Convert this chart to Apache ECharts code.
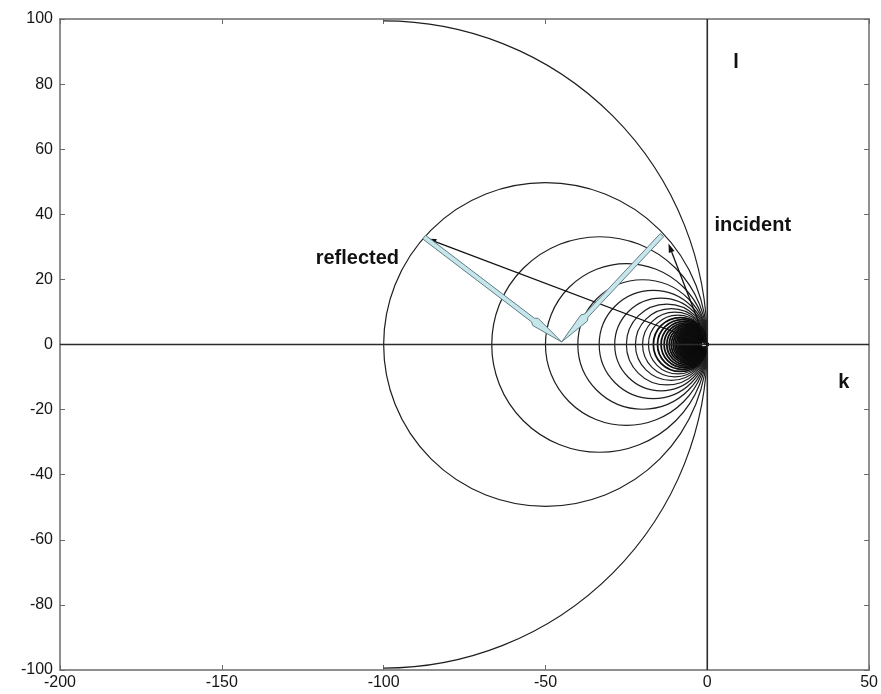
<!DOCTYPE html>
<html>
<head>
<meta charset="utf-8">
<script src="https://cdn.jsdelivr.net/npm/echarts@6/dist/echarts.min.js"></script>
<style>
  html, body { margin: 0; padding: 0; background: #fff; }
  #main { width: 881px; height: 694px; }
</style>
</head>
<body>
<div id="main"></div>
<script>
// tick labels
const xTicks = [-200, -150, -100, -50, 0, 50];
const yTicks = [-100, -80, -60, -40, -20, 0, 20, 40, 60, 80, 100];

// radius of the big half circle (only its right half is drawn)
const outerRadius = [100];

// radii of the full circles, all touching the origin, centre at (-r, 0)
const circleRadii = [
  50, 33.3, 25, 20, 16.7, 14.3, 12.5, 11.1, 10, 9.09,
  8.33, 7.69, 7.14, 6.67, 6.25, 5.88, 5.56, 5.26, 5, 4.76,
  4.55, 4.35, 4.17, 4, 3.85, 3.7, 3.57, 3.45, 3.33, 3.23,
  3.13, 3.03, 2.94, 2.86, 2.78, 2.7, 2.63, 2.56, 2.5, 2.44,
  2.38, 2.33, 2.27, 2.22, 2.17, 2.13, 2.08, 2.04, 2, 1.96,
  1.92, 1.89, 1.85, 1.82, 1.79, 1.75, 1.72, 1.69, 1.67, 1.64,
  1.61, 1.59, 1.56, 1.54, 1.52, 1.49, 1.47, 1.45, 1.43, 1.41,
  1.39, 1.37, 1.35, 1.33, 1.32, 1.3, 1.28, 1.27, 1.25, 1.23,
  1.22, 1.2, 1.19, 1.18, 1.16, 1.15, 1.14, 1.12, 1.11, 1.1,
  1.09, 1.08, 1.06, 1.05, 1.04, 1.03, 1.02, 1.01, 1
];

// k / l axes through the origin [x1, y1, x2, y2]
const originLines = [[0, -100, 0, 100], [-200, 0, 50, 0]];

// thick light-blue arrows, tail -> head
const waveArrows = [[-87.5, 33, -45, 0.8], [-14, 33.6, -45, 0.8]];

// thin black arrows from the origin
const thinArrows = [[0, 0, -86.5, 32.5], [0, 0, -12, 31]];

// annotations [text, x, y]
const notes = [['l', 8.9, 86.5], ['incident', 2.2, 36.5], ['reflected', -121, 26.5], ['k', 42.2, -11.8]];

const chart = echarts.init(document.getElementById('main'));

const tickFont = { color: '#151515', fontSize: 16, fontFamily: 'Liberation Sans, Arial, sans-serif' };
const frameLine = { show: true, onZero: false, lineStyle: { color: '#6b6b6b', width: 1.5 } };

function xAx(pos, showLabel) {
  return {
    type: 'value', position: pos, min: -200, max: 50, interval: 50,
    axisLine: frameLine,
    axisTick: { show: true, inside: true, length: 5, lineStyle: { color: '#6b6b6b' } },
    axisLabel: Object.assign({ show: showLabel, margin: 5, showMaxLabel: true, showMinLabel: true }, tickFont),
    splitLine: { show: false }
  };
}
function yAx(pos, showLabel) {
  return {
    type: 'value', position: pos, min: -100, max: 100, interval: 20,
    axisLine: frameLine,
    axisTick: { show: true, inside: true, length: 5, lineStyle: { color: '#6b6b6b' } },
    axisLabel: Object.assign({ show: showLabel, margin: 7, showMaxLabel: true, showMinLabel: true }, tickFont),
    splitLine: { show: false }
  };
}

function arrowPoly(p1, p2) {
  const dx = p2[0] - p1[0], dy = p2[1] - p1[1];
  const len = Math.sqrt(dx * dx + dy * dy);
  const ux = dx / len, uy = dy / len, nx = -uy, ny = ux;
  const pt = (a, b) => [p1[0] + ux * a + nx * b, p1[1] + uy * a + ny * b];
  const hs = len - 36;
  return [
    pt(0, 2.3), pt(hs, 2.3), pt(hs + 3, 4.5), pt(len, 0),
    pt(hs + 3, -4.5), pt(hs, -2.3), pt(0, -2.3)
  ];
}

chart.setOption({
  backgroundColor: '#fff',
  animation: false,
  grid: { left: 60, right: 9, top: 19, bottom: 24 },
  xAxis: [xAx('bottom', true), xAx('top', false)],
  yAxis: [yAx('left', true), yAx('right', false)],
  series: [
    {
      type: 'custom',
      data: outerRadius.map(r => [r]),
      renderItem: (params, api) => {
        const r = api.value(0);
        const c = api.coord([-r, 0]);
        const rp = api.size([r, 0])[0];
        return {
          type: 'arc',
          shape: { cx: c[0], cy: c[1], r: rp, startAngle: -Math.PI / 2, endAngle: Math.PI / 2, clockwise: true },
          style: { fill: null, stroke: '#1e1e1e', lineWidth: 1.2 }
        };
      }
    },
    {
      type: 'custom',
      data: circleRadii.map(r => [r]),
      renderItem: (params, api) => {
        const r = api.value(0);
        const c = api.coord([-r, 0]);
        const rp = api.size([r, 0])[0];
        return {
          type: 'circle',
          shape: { cx: c[0], cy: c[1], r: rp },
          style: { fill: null, stroke: r < 9 ? '#0d0d0d' : '#1e1e1e', lineWidth: r < 9 ? 1.8 : 1.2 }
        };
      }
    },
    {
      type: 'custom',
      data: originLines,
      renderItem: (params, api) => {
        const a = api.coord([api.value(0), api.value(1)]);
        const b = api.coord([api.value(2), api.value(3)]);
        return {
          type: 'line',
          shape: { x1: a[0], y1: a[1], x2: b[0], y2: b[1] },
          style: { stroke: '#2b2b2b', lineWidth: 1.6 }
        };
      }
    },
    {
      type: 'custom',
      data: thinArrows,
      renderItem: (params, api) => {
        const a = api.coord([api.value(0), api.value(1)]);
        const b = api.coord([api.value(2), api.value(3)]);
        const dx = b[0] - a[0], dy = b[1] - a[1];
        const len = Math.sqrt(dx * dx + dy * dy);
        const ux = dx / len, uy = dy / len;
        const base = [b[0] - ux * 9, b[1] - uy * 9];
        return {
          type: 'group',
          children: [
            {
              type: 'line',
              shape: { x1: a[0], y1: a[1], x2: base[0], y2: base[1] },
              style: { stroke: '#111', lineWidth: 1.3 }
            },
            {
              type: 'polygon',
              shape: { points: [b, [base[0] - uy * 3, base[1] + ux * 3], [base[0] + uy * 3, base[1] - ux * 3]] },
              style: { fill: '#111' }
            }
          ]
        };
      }
    },
    {
      type: 'custom',
      data: waveArrows,
      renderItem: (params, api) => {
        const a = api.coord([api.value(0), api.value(1)]);
        const b = api.coord([api.value(2), api.value(3)]);
        return {
          type: 'polygon',
          shape: { points: arrowPoly(a, b) },
          style: { fill: '#c7e6ec', stroke: '#5f7f86', lineWidth: 1 }
        };
      }
    },
    {
      type: 'custom',
      data: notes.map(n => [n[1], n[2], n[0]]),
      dimensions: ['x', 'y', 'txt'],
      renderItem: (params, api) => {
        const p = api.coord([api.value(0), api.value(1)]);
        const t = notes[params.dataIndex][0];
        const centred = (t === 'l' || t === 'k');
        return {
          type: 'text',
          x: p[0], y: p[1],
          style: {
            text: t,
            fill: '#111',
            font: 'bold 20px "Liberation Sans", Arial, sans-serif',
            align: centred ? 'center' : 'left',
            verticalAlign: 'middle'
          }
        };
      }
    }
  ]
});
</script>
</body>
</html>
